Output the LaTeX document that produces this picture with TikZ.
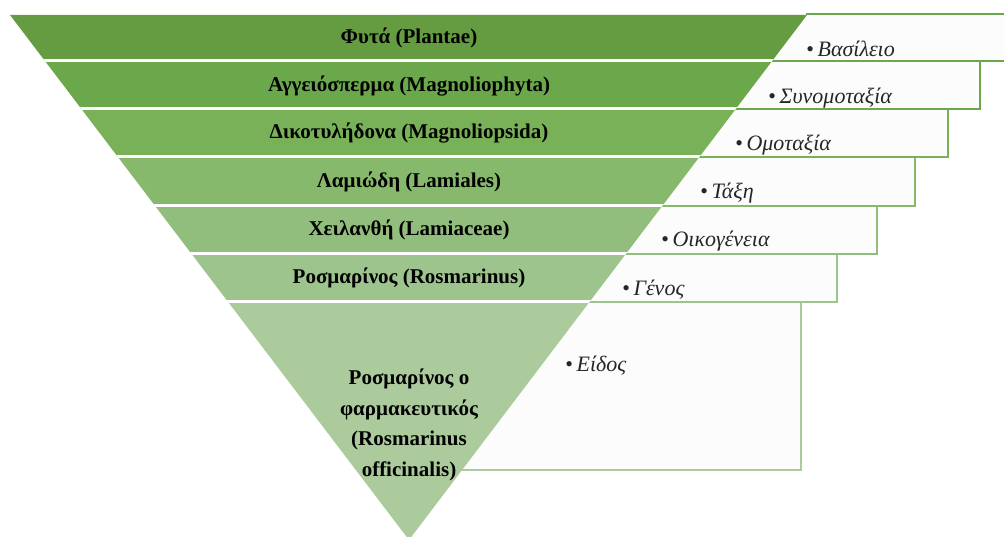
\documentclass[tikz,border=0pt]{standalone}
\usepackage{fontspec}
\setmainfont{Liberation Serif}
\definecolor{ba}{HTML}{669C41}
\definecolor{bb}{HTML}{6BA84B}
\definecolor{bc}{HTML}{79B158}
\definecolor{bd}{HTML}{87B96C}
\definecolor{be}{HTML}{92BE7D}
\definecolor{bf}{HTML}{9EC48D}
\definecolor{bg}{HTML}{ACCB9D}
\definecolor{boxfill}{HTML}{FCFCFC}
\tikzset{
  levelbox/.style={fill=boxfill, line width=2.5pt},
  bandtext/.style={font=\fontsize{21}{30.5}\selectfont\bfseries, text=black, align=center, inner sep=0pt},
  ranktext/.style={font=\fontsize{22}{26}\selectfont\itshape, text=black!85, anchor=west, inner sep=0pt}
}
\begin{document}
\begin{tikzpicture}[x=1pt,y=-1pt]
\useasboundingbox (0,0) rectangle (1004,537);
\clip (0,0) rectangle (1004,537);
% right-hand boxes (behind the triangle)
\draw[levelbox, draw=bg] (400,302) rectangle (801,470);
\draw[levelbox, draw=bf] (400,254) rectangle (837,302);
\draw[levelbox, draw=be] (400,206) rectangle (877,254);
\draw[levelbox, draw=bd] (400,157) rectangle (915,206);
\draw[levelbox, draw=bc] (400,109) rectangle (948,157);
\draw[levelbox, draw=bb] (400,61) rectangle (980,109);
\fill[boxfill] (400,14) rectangle (1012,61);
\draw[line width=2.5pt, draw=bb] (806,14) -- (1012,14) -- (1012,61) -- (400,61);
% triangle bands
\begin{scope}
  \clip (10,15) -- (807,15) -- (409,540) -- cycle;
  \fill[ba] (0,10) rectangle (1004,61);
  \fill[bb] (0,61) rectangle (1004,109);
  \fill[bc] (0,109) rectangle (1004,157);
  \fill[bd] (0,157) rectangle (1004,206);
  \fill[be] (0,206) rectangle (1004,254);
  \fill[bf] (0,254) rectangle (1004,302);
  \fill[bg] (0,302) rectangle (1004,545);
  \foreach \yy in {61,109,157,206,254,302}
    \draw[white, line width=3pt] (0,\yy) -- (1004,\yy);
\end{scope}
% band labels
\node[bandtext] (t1) at (409,38) {Φυτά (Plantae)};
\node[bandtext] (t2) at (409,86) {Αγγειόσπερμα (Magnoliophyta)};
\node[bandtext] (t3) at (409,133) {Δικοτυλήδονα (Magnoliopsida)};
\node[bandtext] (t4) at (409,182) {Λαμιώδη (Lamiales)};
\node[bandtext] (t5) at (409,230) {Χειλανθή (Lamiaceae)};
\node[bandtext] (t6) at (409,278) {Ροσμαρίνος (Rosmarinus)};
\node[bandtext] (t7) at (409,425) {Ροσμαρίνος ο\\φαρμακευτικός\\(Rosmarinus\\officinalis)};
% rank labels
\node[ranktext] (l1) at (806,49) {•\,Βασίλειο};
\node[ranktext] (l2) at (768,98) {•\,Συνομοταξία};
\node[ranktext] (l3) at (735,145) {•\,Ομοταξία};
\node[ranktext] (l4) at (700,193) {•\,Τάξη};
\node[ranktext] (l5) at (661,241) {•\,Οικογένεια};
\node[ranktext] (l6) at (622,290) {•\,Γένος};
\node[ranktext] (l7) at (565,366) {•\,Είδος};
\end{tikzpicture}
\end{document}
